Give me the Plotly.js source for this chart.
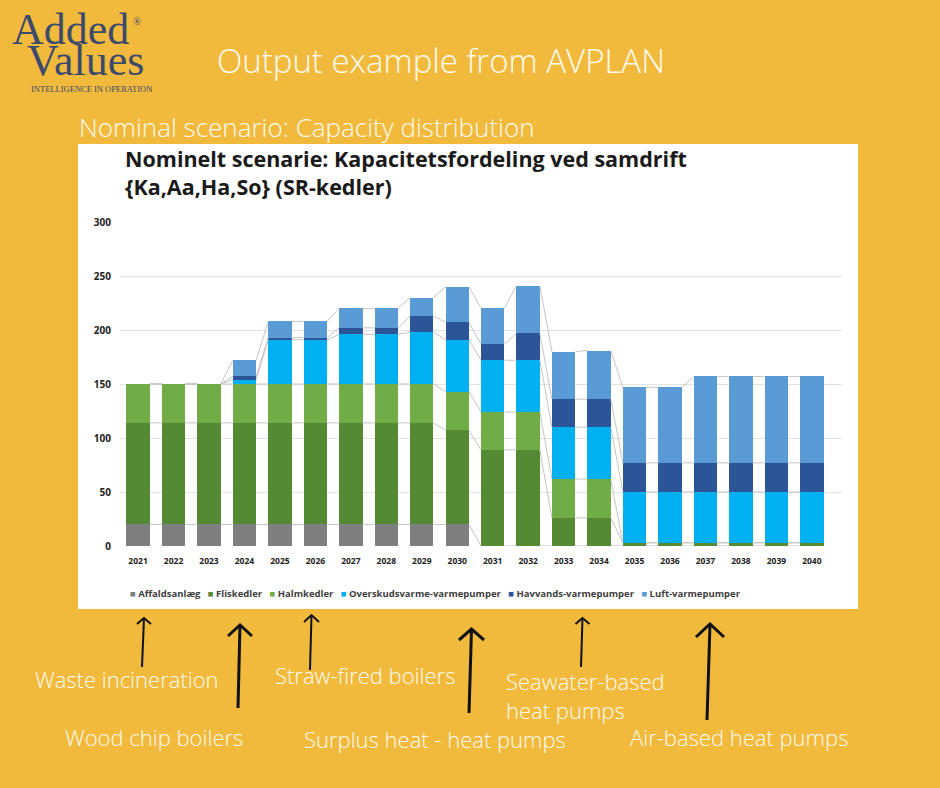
<!DOCTYPE html>
<html><head><meta charset="utf-8">
<script src="https://cdn.plot.ly/plotly-3.0.1.min.js"></script>
<style>html,body{margin:0;padding:0;background:#f2ba3d;}#chart{width:940px;height:788px;}</style>
</head><body><div id="chart"></div>
<script>
// ---- data ----
const years = ['2021','2022','2023','2024','2025','2026','2027','2028','2029','2030','2031','2032','2033','2034','2035','2036','2037','2038','2039','2040'];
const seriesNames = ['Affaldsanlæg','Fliskedler','Halmkedler','Overskudsvarme-varmepumper','Havvands-varmepumper','Luft-varmepumper'];
const affaldsanlaeg = [20,20,20,20,20,20,20,20,20,20,0,0,0,0,0,0,0,0,0,0];
const fliskedler    = [94,94,94,94,94,94,94,94,94,87,89,89,26,26,3,3,3,3,3,3];
const halmkedler    = [36,36,36,36,36,36,36,36,36,36,35,35,36,36,0,0,0,0,0,0];
const overskud      = [0,0,0,4,41,41,46,46,48,48,48,48,48,48,47,47,47,47,47,47];
const havvand       = [0,0,0,3,2,2,6,6,15,16,15,25,26,26,27,27,27,27,27,27];
const luft          = [0,0,0,15,15,15,18,18,17,33,33,44,44,45,70,70,80,80,80,80];
const yTicks = [0,50,100,150,200,250,300];

// ---- styles ----
const colors = ['#7f7f7f','#548a34','#70ad47','#00b0f0','#2c5597','#5b9bd5'];
const BG = '#f2ba3d';
const W = 940, H = 788, L = 120, R = 98, T = 222, B = 242;
const PW = W - L - R, PH = H - T - B;
const px = x => (x - L) / PW;
const py = y => (H - B - y) / PH;
const BARGAP = 0.34;

const seriesData = [affaldsanlaeg, fliskedler, halmkedler, overskud, havvand, luft];
const xIdx = years.map((_, i) => i);

const traces = seriesData.map((vals, k) => ({
  type: 'bar', x: xIdx, y: vals, name: seriesNames[k],
  marker: {color: colors[k], line: {width: 0}}, showlegend: false, hoverinfo: 'y+name'
}));

// series connector lines between stacked segment tops
const hw = (1 - BARGAP) / 2;
let cum = years.map(() => 0);
seriesData.forEach((vals) => {
  cum = cum.map((c, i) => c + vals[i]);
  const cx = [], cy = [];
  for (let i = 0; i < years.length - 1; i++) {
    cx.push(i + hw, i + 1 - hw, null);
    cy.push(cum[i], cum[i + 1], null);
  }
  traces.push({type: 'scatter', mode: 'lines', x: cx, y: cy, line: {color: '#c9c3c3', width: 1},
    showlegend: false, hoverinfo: 'skip'});
});

// legend text built from names and colours
const legendText = seriesNames.map((n, k) =>
  `<span style="color:${colors[k]}">■</span> ${n}`).join('&nbsp;&nbsp;&nbsp;');

const white = '#fffaf0';
const lightFont = {family: 'Open Sans, sans-serif', color: white, weight: 300};
const logoColor = '#3d4a6b';

const labels = [
  ['Waste incineration', 33, 679],
  ['Wood chip boilers', 63, 737],
  ['Straw-fired boilers', 273, 675],
  ['Surplus heat - heat pumps', 302, 739],
  ['Seawater-based<br>heat pumps', 504, 695],
  ['Air-based heat pumps', 628, 737]
];

const arrows = [
  [142, 667, 144, 618, 7, 6, 2],
  [238, 708, 240, 625, 12, 11, 3],
  [310, 670, 311.5, 615, 7.5, 7, 2],
  [469, 713, 471.5, 629, 12.5, 11, 3],
  [581, 667, 582.5, 618, 7, 6, 2],
  [707, 720, 710, 624, 14, 13, 3]
];

const shapes = [
  {type: 'rect', xref: 'paper', yref: 'paper', x0: px(78), x1: px(858), y0: py(609), y1: py(144),
   fillcolor: '#ffffff', line: {width: 0}, layer: 'below'}
];
arrows.forEach(a => {
  const [xb, yb, xt, yt, hwp, hh, lw] = a;
  shapes.push({type: 'path', xref: 'paper', yref: 'paper',
    path: `M ${px(xb)},${py(yb)} L ${px(xt)},${py(yt)}`, line: {color: '#111111', width: lw}});
  shapes.push({type: 'path', xref: 'paper', yref: 'paper',
    path: `M ${px(xt - hwp)},${py(yt + hh)} L ${px(xt)},${py(yt)} L ${px(xt + hwp)},${py(yt + hh)}`,
    line: {color: '#111111', width: lw}});
});

const annotations = [
  {text: 'Added', x: px(10), y: py(29), xanchor: 'left', yanchor: 'middle',
   font: {family: 'Liberation Serif, serif', size: 44, color: logoColor}},
  {text: '®', x: px(131), y: py(21), xanchor: 'left', yanchor: 'middle',
   font: {family: 'Liberation Serif, serif', size: 11, color: logoColor}},
  {text: 'Values', x: px(25), y: py(60), xanchor: 'left', yanchor: 'middle',
   font: {family: 'Liberation Serif, serif', size: 44, color: logoColor}},
  {text: 'INTELLIGENCE IN OPERATION', x: px(29), y: py(89), xanchor: 'left', yanchor: 'middle',
   font: {family: 'Liberation Serif, serif', size: 8.5, color: logoColor}},
  {text: 'Output example from AVPLAN', x: px(215), y: py(60), xanchor: 'left', yanchor: 'middle',
   font: Object.assign({}, lightFont, {size: 33})},
  {text: 'Nominal scenario: Capacity distribution', x: px(77), y: py(127), xanchor: 'left', yanchor: 'middle',
   font: Object.assign({}, lightFont, {size: 26})},
  {text: 'Nominelt scenarie: Kapacitetsfordeling ved samdrift<br>{Ka,Aa,Ha,So} (SR-kedler)',
   x: px(123), y: py(172), xanchor: 'left', yanchor: 'middle', align: 'left',
   font: {family: 'Open Sans, sans-serif', size: 21.5, color: '#1a1a1a', weight: 700}},
  {text: legendText, x: px(128), y: py(593), xanchor: 'left', yanchor: 'middle',
   font: {family: 'Open Sans, sans-serif', size: 9.5, color: '#404040', weight: 700}}
];
labels.forEach(l => annotations.push({text: l[0], x: px(l[1]), y: py(l[2]), xanchor: 'left', yanchor: 'middle',
  align: 'left', font: Object.assign({}, lightFont, {size: 22})}));
annotations.forEach(a => { a.xref = 'paper'; a.yref = 'paper'; a.showarrow = false; });

const layout = {
  width: W, height: H,
  margin: {l: L, r: R, t: T, b: B, pad: 0},
  paper_bgcolor: BG, plot_bgcolor: '#ffffff',
  barmode: 'stack', bargap: BARGAP,
  showlegend: false,
  xaxis: {range: [-0.51, 19.85], tickvals: xIdx, ticktext: years, showgrid: false, zeroline: false,
    showline: false, ticks: '', ticklabelstandoff: 8,
    tickfont: {family: 'Open Sans, sans-serif', size: 8.5, color: '#222222', weight: 700}},
  yaxis: {range: [0, 300], tickvals: yTicks, showgrid: true, gridcolor: '#e2e2e2', gridwidth: 1,
    zeroline: false, showline: false, ticks: '', ticklabelstandoff: 8,
    tickfont: {family: 'Open Sans, sans-serif', size: 10, color: '#222222', weight: 700}},
  shapes: shapes,
  annotations: annotations
};

Plotly.newPlot('chart', traces, layout, {displayModeBar: false, staticPlot: true});
</script>
</body></html>
